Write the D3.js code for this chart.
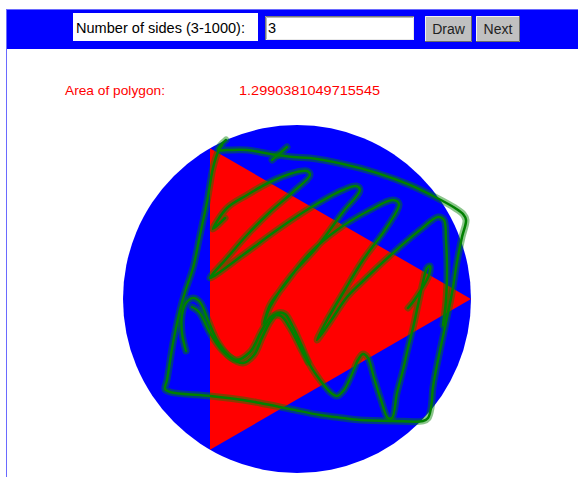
<!DOCTYPE html>
<html>
<head>
<meta charset="utf-8">
<script src="https://cdn.jsdelivr.net/npm/d3@7"></script>
<style>
  html, body { margin: 0; padding: 0; background: #ffffff; }
  svg { display: block; }
  text { font-family: "Liberation Sans", Arial, sans-serif; }
</style>
</head>
<body>
<svg id="chart" width="578" height="477"></svg>
<script>
// ---------------- data ----------------
const sidesLabel = "Number of sides (3-1000):";
const sidesValue = "3";
const buttonLabels = ["Draw", "Next"];
const areaLabel = "Area of polygon:";
const areaValue = "1.2990381049715545";

// regular polygon (n = 3) vertices on the unit circle
const polygonVertices = [[1, 0], [-0.5, 0.866], [-0.5, -0.866]];

// freehand ink, in ink units relative to the circle centre (radius = 174, y down)
const inkOutline = [[-71,-159],[-77,-153],[-79,-149],[-70,-149],[-50,-149],[-27,-145],[-4,-142],[13,-141],[46,-135],[80,-126],[113,-114],[140,-101],[158,-91],[166,-85],[169,-79],[165,-62],[160,-37],[155,-6],[148,28],[141,61],[136,88],[134,109],[131,119],[126,122],[96,122],[63,121],[46,119],[23,116],[-7,110],[-37,104],[-54,101],[-87,97],[-127,93],[-132,90],[-130,81],[-124,44],[-117,11],[-112,-7],[-104,-31],[-97,-64],[-90,-97],[-84,-131],[-79,-147],[-75,-154]];
const inkTick = [[-25,-139],[-10,-152]];
const inkZigzag = [[-72,-81],[-84,-70],[-70,-91],[-50,-104],[-27,-117],[-4,-126],[10,-128],[13,-124],[-4,-107],[-27,-87],[-50,-64],[-70,-41],[-87,-21],[-54,-44],[-20,-69],[13,-91],[46,-109],[59,-113],[63,-109],[46,-87],[20,-52],[-7,-22],[-27,8],[-33,24],[-27,6],[-14,-12],[13,-46],[40,-69],[73,-89],[96,-99],[102,-95],[90,-72],[66,-39],[46,-6],[30,21],[20,41],[33,23],[50,-2],[66,-18],[96,-46],[123,-69],[141,-82],[147,-79],[149,-59],[150,-29],[149,1],[146,26]];
const inkWaveA = [[-111,52],[-115,34],[-115,16],[-111,4],[-104,-1],[-97,3],[-89,21],[-79,43],[-67,58],[-54,64],[-43,56],[-35,39],[-27,23],[-19,14],[-12,15],[-5,26],[3,43],[13,66],[23,81],[33,93],[40,97],[47,91],[55,75],[61,61],[66,55],[71,59],[77,79],[84,101],[91,119],[95,119],[100,94],[106,71],[111,49],[116,29],[121,6],[126,-17],[130,-31],[133,-33],[132,-24],[124,-9],[116,3],[111,9]];
const inkWaveB = [[-105,8],[-98,13],[-87,34],[-75,51],[-61,61],[-47,53],[-35,31],[-25,17],[-16,17],[-7,29],[3,48],[11,63]];
const inkStrokes = [inkOutline, inkTick, inkZigzag, inkWaveA, inkWaveB];

// ---------------- drawing ----------------
const svg = d3.select("#chart");

// toolbar
svg.append("rect").attr("x", 6).attr("y", 9).attr("width", 572).attr("height", 40).attr("fill", "#0000ff");
svg.append("line").attr("x1", 6).attr("x2", 578).attr("y1", 9.5).attr("y2", 9.5).attr("stroke", "#6a6aff");
svg.append("line").attr("x1", 6.5).attr("x2", 6.5).attr("y1", 9).attr("y2", 477).attr("stroke", "#6a6aff");

svg.append("rect").attr("x", 73).attr("y", 13).attr("width", 185).attr("height", 28).attr("fill", "#ffffff");
svg.append("text").attr("x", 76).attr("y", 33).attr("font-size", 14.5).attr("fill", "#000")
  .attr("textLength", 169).attr("lengthAdjust", "spacingAndGlyphs").text(sidesLabel);

// input field
const inp = svg.append("g");
inp.append("rect").attr("x", 265).attr("y", 16).attr("width", 149).attr("height", 24).attr("fill", "#ffffff");
inp.append("path").attr("d", "M265.5,40 V16.5 H414").attr("fill", "none").attr("stroke", "#7a7a7a");
inp.append("path").attr("d", "M266.5,39 V17.5 H413").attr("fill", "none").attr("stroke", "#b8b8b8");
inp.append("path").attr("d", "M266,39.5 H413.5 V17").attr("fill", "none").attr("stroke", "#e8e8e8");
inp.append("text").attr("x", 268).attr("y", 33).attr("font-size", 14.5).attr("fill", "#000").text(sidesValue);

// buttons
const btnX = d3.scaleOrdinal().domain(buttonLabels).range([425, 476]);
const btnW = d3.scaleOrdinal().domain(buttonLabels).range([47, 44]);
buttonLabels.forEach(lbl => {
  const bx = btnX(lbl), bw = btnW(lbl), by = 16, bh = 26;
  const g = svg.append("g");
  g.append("rect").attr("x", bx).attr("y", by).attr("width", bw).attr("height", bh).attr("fill", "#c0c0c0");
  g.append("path").attr("d", `M${bx + 0.5},${by + bh} V${by + 0.5} H${bx + bw}`).attr("fill", "none").attr("stroke", "#f0f0f0");
  g.append("path").attr("d", `M${bx},${by + bh - 0.5} H${bx + bw - 0.5} V${by}`).attr("fill", "none").attr("stroke", "#6a6a6a");
  g.append("text").attr("x", bx + bw / 2).attr("y", 34).attr("text-anchor", "middle")
    .attr("font-size", 14).attr("fill", "#222").text(lbl);
});

// area text
svg.append("text").attr("x", 65).attr("y", 95).attr("font-size", 13.5).attr("fill", "#ff0000")
  .attr("textLength", 100).attr("lengthAdjust", "spacingAndGlyphs").text(areaLabel);
svg.append("text").attr("x", 239).attr("y", 95).attr("font-size", 13.5).attr("fill", "#ff0000")
  .attr("textLength", 141).attr("lengthAdjust", "spacingAndGlyphs").text(areaValue);

// scales
const x = d3.scaleLinear().domain([-1, 1]).range([123, 471]);
const y = d3.scaleLinear().domain([-1, 1]).range([473, 125]);
const inkX = d3.scaleLinear().domain([-174, 174]).range([123, 471]);
const inkY = d3.scaleLinear().domain([-174, 174]).range([125, 473]);

// circle
svg.append("circle").attr("cx", x(0)).attr("cy", y(0)).attr("r", x(1) - x(0)).attr("fill", "#0000ff");

// polygon
svg.append("polygon")
  .attr("points", polygonVertices.map(d => [x(d[0]), y(d[1])].join(",")).join(" "))
  .attr("fill", "#ff0000");

// ink
const inkLine = d3.line().x(d => inkX(d[0])).y(d => inkY(d[1])).curve(d3.curveCatmullRom.alpha(0.5));
const ink = svg.append("g").attr("fill", "none").attr("stroke-linecap", "round").attr("stroke-linejoin", "round");
ink.selectAll("path.halo").data(inkStrokes).join("path").attr("class", "halo")
  .attr("d", inkLine).attr("stroke", "#008000").attr("stroke-opacity", 0.45).attr("stroke-width", 7);
ink.selectAll("path.core").data(inkStrokes).join("path").attr("class", "core")
  .attr("d", inkLine).attr("stroke", "#008000").attr("stroke-width", 2.5);
</script>
</body>
</html>
